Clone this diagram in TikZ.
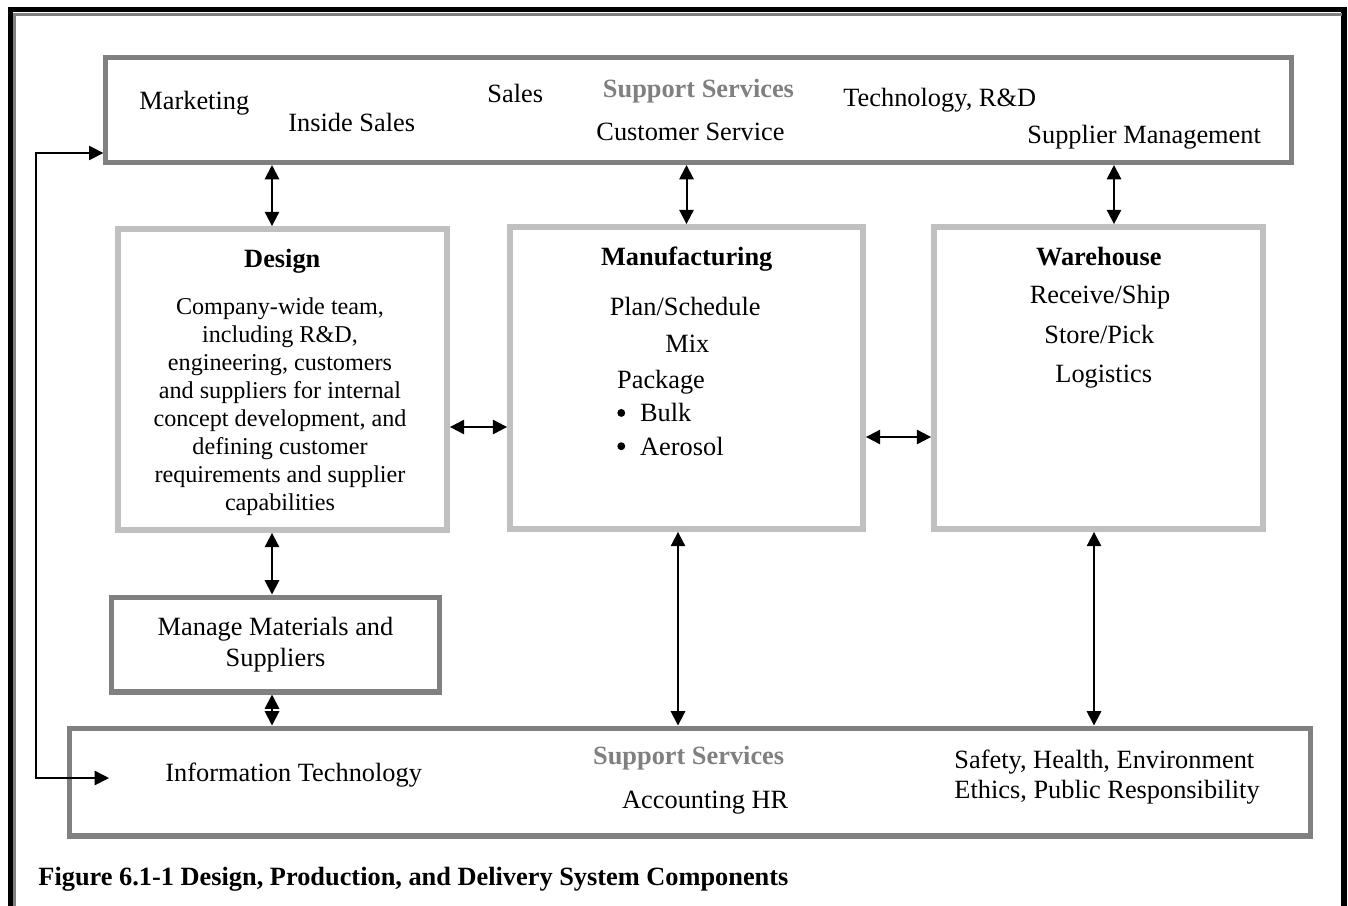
\documentclass[tikz,border=0pt]{standalone}
\usepackage{fontspec}
\setmainfont{Liberation Serif}
\usetikzlibrary{arrows.meta}
\definecolor{boxdark}{HTML}{808080}
\definecolor{boxlight}{HTML}{C0C0C0}

\newcommand{\bigbullet}{\makebox[10.8pt][l]{\hspace{0.4pt}\raisebox{2.2pt}{\tikz\fill (0,0) circle (1.8pt);}}}

\tikzset{
  darkbox/.style={draw=boxdark, line width=2.3pt, inner sep=0pt},
  lightbox/.style={draw=boxlight, line width=2.7pt, inner sep=0pt},
  lbl/.style={inner sep=0pt, anchor=base west, font=\fontsize{12}{14}\selectfont},
  head/.style={inner sep=0pt, anchor=base, font=\fontsize{12}{14}\selectfont\bfseries},
  grayhead/.style={head, anchor=base west, text=boxdark},
  dbl/.style={{Triangle[length=6.5pt,width=6.5pt]}-{Triangle[length=6.5pt,width=6.5pt]}, line width=0.9pt},
}

\begin{document}
\begin{tikzpicture}[x=0.016cm, y=-0.016cm]
      \useasboundingbox (0,0) rectangle (1348,905);
      % page frame
      \draw[line width=2.6pt] (10.5,915) -- (10.5,9.5) -- (1344,9.5) -- (1344,915);
      \draw[boxdark, line width=1.8pt] (14.5,915) -- (14.5,14.5) -- (1341.5,14.5);

      % boxes
      \node[darkbox, minimum width=18.98cm, minimum height=1.68cm] (support) at (698.75,110) {};
      \node[lightbox, minimum width=5.264cm, minimum height=4.816cm] (design) at (282.5,379.5) {};
      \node[lightbox, minimum width=5.648cm, minimum height=4.832cm] (manuf) at (686.5,378) {};
      \node[lightbox, minimum width=5.264cm, minimum height=4.832cm] (warehouse) at (1098.5,378) {};
      \node[darkbox, minimum width=5.264cm, minimum height=1.52cm, align=center,
        font=\fontsize{12}{14}\selectfont] (manage) at (275.5,644.5) {Manage Materials and\\Suppliers};
      \node[darkbox, minimum width=19.872cm, minimum height=1.728cm] (itsupport) at (690,782) {};

      % top support services
      \node[lbl] (mkt) at (139,109) {Marketing};
      \node[lbl] (insales) at (288,131) {Inside Sales};
      \node[lbl] (sales) at (487,102) {Sales};
      \node[grayhead] (supptop) at (602.5,97) {Support Services};
      \node[lbl] (custsvc) at (596,140) {Customer Service};
      \node[lbl] (techrd) at (843,106) {Technology, R\&D};
      \node[lbl] (suppmgmt) at (1027,143) {Supplier Management};

      % design
      \node[head] (designhd) at (282.3,267) {Design};
      \node[inner sep=0pt, align=center, font=\fontsize{11}{12.77}\selectfont] (designtxt) at (280,406.7)
        {Company-wide team,\\including R\&D,\\engineering, customers\\and suppliers for internal\\concept development, and\\defining customer\\requirements and supplier\\capabilities};

      % manufacturing
      \node[head] (manufhd) at (686.7,265) {Manufacturing};
      \node[lbl] (plan) at (609.3,315.7) {Plan/Schedule};
      \node[lbl] (mix) at (665,352.7) {Mix};
      \node[lbl] (pkg) at (616.7,388.3) {Package};
      \node[lbl] (bulk) at (616,421.7) {\bigbullet Bulk};
      \node[lbl] (aerosol) at (616,455) {\bigbullet Aerosol};

      % warehouse
      \node[head] (whhd) at (1098.8,265) {Warehouse};
      \node[lbl] (recv) at (1029.3,303.3) {Receive/Ship};
      \node[lbl] (store) at (1044,343.3) {Store/Pick};
      \node[lbl] (logi) at (1055,382.3) {Logistics};

      % bottom support services
      \node[lbl] (infotech) at (165,781.7) {Information Technology};
      \node[grayhead] (suppbot) at (592.7,764) {Support Services};
      \node[lbl] (acct) at (621.7,808) {Accounting HR};
      \node[lbl] (safety) at (954,768) {Safety, Health, Environment};
      \node[lbl] (ethics) at (954,798) {Ethics, Public Responsibility};

      \node[head, anchor=base west] (caption) at (38,885)
        {Figure 6.1-1 Design, Production, and Delivery System Components};

      % links
      \draw[dbl] (support.south -| 272,0) -- (design.north -| 272,0);
      \draw[dbl] (manuf.north |- support.south) -- (manuf.north);
      \draw[dbl] (support.south -| 1114,0) -- (warehouse.north -| 1114,0);
      \draw[dbl] (design.east |- 0,427) -- (manuf.west |- 0,427);
      \draw[dbl] (manuf.east |- 0,437) -- (warehouse.west |- 0,437);
      \draw[dbl] (design.south -| 272,0) -- (manage.north -| 272,0);
      \draw[dbl] (manage.south -| 272,0) -- (itsupport.north -| 272,0);
      \draw[dbl] (manuf.south -| 678,0) -- (itsupport.north -| 678,0);
      \draw[dbl] (warehouse.south -| 1094,0) -- (itsupport.north -| 1094,0);

      % feedback loop
      \coordinate (itin) at (109,778);
      \coordinate (loopbot) at (36,778);
      \draw[dbl, line width=0.7pt] (itin) -- (loopbot) |- (support.west |- 0,153);
    \end{tikzpicture}
\end{document}
